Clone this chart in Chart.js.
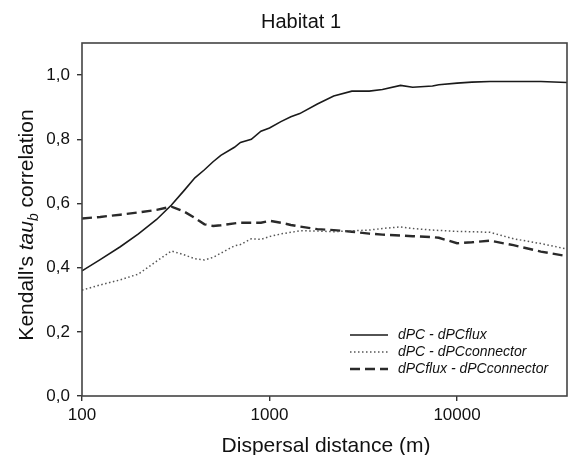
<!DOCTYPE html>
<html lang="en">
<head>
  <meta charset="UTF-8" />
  <title>Habitat 1</title>
  <script src="https://cdn.jsdelivr.net/npm/chart.js"></script>
  <style>
    html, body { margin: 0; padding: 0; background: #fff; }
    #wrap { width: 568px; height: 455px; position: relative; }
  </style>
</head>
<body>
  <div id="wrap"><canvas id="grafico"></canvas></div>

  <script>
    // dispersal distance (m)
    const distances = [100, 125, 160, 200, 250, 300, 350, 400, 450, 500, 550, 650, 700, 800, 900,
      1000, 1150, 1300, 1450, 1800, 2200, 2750, 3400, 4000, 5000, 5800, 7400, 8000, 10000,
      12000, 15000, 20000, 28000, 38600];

    // dPC - dPCflux
    const fluxVals = [0.39, 0.425, 0.465, 0.505, 0.55, 0.595, 0.64, 0.68, 0.705, 0.73, 0.75, 0.775, 0.79,
      0.80, 0.825, 0.835, 0.855, 0.87, 0.88, 0.91, 0.935, 0.95, 0.95, 0.955, 0.968, 0.962, 0.966,
      0.97, 0.975, 0.978, 0.98, 0.98, 0.98, 0.977];

    // dPC - dPCconnector
    const connectorVals = [0.33, 0.346, 0.362, 0.38, 0.42, 0.452, 0.44, 0.428, 0.424, 0.432, 0.445,
      0.468, 0.472, 0.49, 0.488, 0.497, 0.505, 0.51, 0.515, 0.514, 0.512, 0.515, 0.517, 0.522,
      0.527, 0.522, 0.517, 0.516, 0.513, 0.512, 0.51, 0.49, 0.475, 0.458];

    // dPCflux - dPCconnector
    const fluxConnectorVals = [0.553, 0.558, 0.565, 0.572, 0.58, 0.59, 0.575, 0.555, 0.535, 0.53,
      0.532, 0.538, 0.54, 0.54, 0.54, 0.546, 0.54, 0.533, 0.528, 0.52, 0.517, 0.512, 0.506, 0.503,
      0.50, 0.498, 0.495, 0.493, 0.476, 0.479, 0.484, 0.47, 0.45, 0.436];

    const seriesNames = ["dPC - dPCflux", "dPC - dPCconnector", "dPCflux - dPCconnector"];
    const xTicks = [100, 1000, 10000];
    const yTicks = [0, 0.2, 0.4, 0.6, 0.8, 1.0];

    const FONT = "'Liberation Sans', Arial, sans-serif";
    const toPts = vals => distances.map((d, i) => ({ x: d, y: vals[i] }));

    // title, frame, y title and legend drawn by hand
    const extras = {
      id: "extras",
      afterDraw(chart) {
        const ctx = chart.ctx;
        const a = chart.chartArea;
        ctx.save();

        ctx.strokeStyle = "#444";
        ctx.lineWidth = 1.6;
        ctx.strokeRect(a.left, a.top, a.right - a.left, a.bottom - a.top);

        ctx.fillStyle = "#111";
        ctx.font = "20px " + FONT;
        ctx.textAlign = "center";
        ctx.textBaseline = "alphabetic";
        ctx.fillText("Habitat 1", 301, 28);

        ctx.font = "21px " + FONT;
        ctx.fillText("Dispersal distance (m)", 326, 452);

        // y title with italic tau and subscript b
        ctx.translate(33, 225);
        ctx.rotate(-Math.PI / 2);
        const parts = [
          { t: "Kendall's ", f: "21px " + FONT, dy: 0 },
          { t: "tau", f: "italic 21px " + FONT, dy: 0 },
          { t: "b", f: "italic 14px " + FONT, dy: 5 },
          { t: " correlation", f: "21px " + FONT, dy: 0 }
        ];
        let total = 0;
        parts.forEach(p => { ctx.font = p.f; total += ctx.measureText(p.t).width; });
        let x = -total / 2;
        ctx.textAlign = "left";
        parts.forEach(p => {
          ctx.font = p.f;
          ctx.fillText(p.t, x, p.dy);
          x += ctx.measureText(p.t).width;
        });
        ctx.restore();

        // legend
        ctx.save();
        ctx.font = "italic 14px " + FONT;
        ctx.textBaseline = "middle";
        ctx.textAlign = "left";
        chart.data.datasets.forEach((ds, i) => {
          const y = 335 + i * 17;
          ctx.strokeStyle = ds.borderColor;
          ctx.lineWidth = ds.borderWidth;
          ctx.setLineDash(ds.borderDash || []);
          ctx.beginPath();
          ctx.moveTo(350, y);
          ctx.lineTo(388, y);
          ctx.stroke();
          ctx.fillStyle = "#111";
          ctx.fillText(ds.label, 398, y);
        });
        ctx.restore();
      }
    };

    new Chart(document.getElementById("grafico"), {
      type: "line",
      data: {
        datasets: [{
          label: seriesNames[0],
          data: toPts(fluxVals),
          borderColor: "#1a1a1a",
          borderWidth: 1.6
        }, {
          label: seriesNames[1],
          data: toPts(connectorVals),
          borderColor: "#555",
          borderWidth: 1.5,
          borderDash: [1.5, 2.5]
        }, {
          label: seriesNames[2],
          data: toPts(fluxConnectorVals),
          borderColor: "#2a2a2a",
          borderWidth: 2.4,
          borderDash: [10, 5]
        }]
      },
      options: {
        responsive: true,
        maintainAspectRatio: false,
        animation: false,
        elements: { point: { radius: 0 }, line: { tension: 0 } },
        layout: { padding: { top: 43, right: 1, left: 0, bottom: 0 } },
        plugins: { legend: { display: false }, tooltip: { enabled: false } },
        scales: {
          x: {
            type: "logarithmic",
            min: 100,
            max: 38600,
            afterFit: s => { s.height = 59; },
            afterBuildTicks: s => { s.ticks = xTicks.map(v => ({ value: v })); },
            grid: { drawOnChartArea: false, drawTicks: true, tickLength: 5, color: "#333", lineWidth: 1.4 },
            border: { display: false },
            ticks: {
              color: "#111",
              font: { family: FONT, size: 17 },
              padding: 4,
              maxRotation: 0,
              callback: v => String(v)
            }
          },
          y: {
            min: 0,
            max: 1.1,
            afterFit: s => { s.width = 82; },
            afterBuildTicks: s => { s.ticks = yTicks.map(v => ({ value: v })); },
            grid: { drawOnChartArea: false, drawTicks: true, tickLength: 5, color: "#333", lineWidth: 1.4 },
            border: { display: false },
            ticks: {
              color: "#111",
              font: { family: FONT, size: 17 },
              padding: 7,
              callback: v => v.toFixed(1).replace(".", ",")
            }
          }
        }
      },
      plugins: [extras]
    });
  </script>
</body>
</html>
